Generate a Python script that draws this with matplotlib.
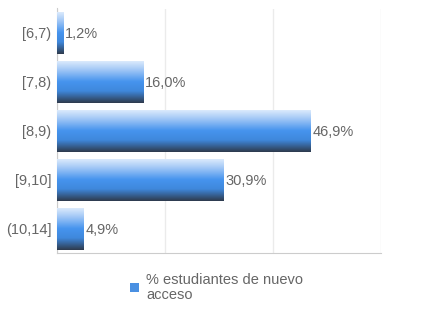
import numpy as np
import matplotlib
matplotlib.use("Agg")
import matplotlib.pyplot as plt
from matplotlib.colors import LinearSegmentedColormap

categories = ["[6,7)", "[7,8)", "[8,9)", "[9,10]", "(10,14]"]
values = [1.2, 16.0, 46.9, 30.9, 4.9]
value_labels = ["1,2%", "16,0%", "46,9%", "30,9%", "4,9%"]
legend_label = "% estudiantes de nuevo\nacceso"

plt.rcParams['font.family'] = ['Liberation Sans', 'DejaVu Sans']

W, H = 432, 324
fig = plt.figure(figsize=(W/100, H/100), dpi=100)
left, right, top, bottom = 57, 381, 8.5, 253
ax = fig.add_axes([left/W, 1-bottom/H, (right-left)/W, (bottom-top)/H])

n = len(categories)
ax.set_xlim(0, 60)
ax.set_ylim(n - 0.5, -0.5)

cmap = LinearSegmentedColormap.from_list(
    "bar", [(0.0, "#e2eefd"), (0.22, "#a3c8f6"), (0.5, "#4694ee"),
            (0.72, "#3f88dc"), (1.0, "#2e3a4c")])
grad = np.linspace(0, 1, 256).reshape(-1, 1)
bh = 0.86
bars = ax.barh(range(n), values, height=bh, color="none", edgecolor="none", zorder=3)
for i, (b, v) in enumerate(zip(bars, values)):
    im = ax.imshow(grad, cmap=cmap, aspect="auto",
                   extent=[0, v, i + bh/2, i - bh/2], zorder=3,
                   interpolation="bilinear")
    im.set_clip_path(b)
    ax.text(v + 0.35, i, value_labels[i], va="center_baseline", ha="left",
            fontsize=10.5, color="#666666", zorder=4)

ax.set_xlim(0, 60)
ax.set_ylim(n - 0.5, -0.5)
ax.set_xticks([0, 20, 40, 60])
ax.set_xticklabels([])
ax.tick_params(axis="x", length=0)
ax.grid(axis="x", color="#ebebeb", linewidth=1, zorder=0)
ax.set_yticks(range(n))
ax.set_yticklabels(categories, fontsize=10.5, color="#666666", va="center_baseline")
ax.tick_params(axis="y", length=0, pad=4)
for s in ["top", "right"]:
    ax.spines[s].set_visible(False)
ax.spines["left"].set_color("#cccccc")
ax.spines["bottom"].set_color("#cccccc")

# legend
lx0, ly0 = 130, 283
sq = plt.Rectangle((lx0/W, 1-(ly0+9)/H), 9/W, 9/H, transform=fig.transFigure,
                   facecolor="#4a90e2", edgecolor="none")
fig.patches.append(sq)
fig.text(146/W, 1-287.5/H, legend_label, fontsize=10.5, color="#666666",
         va="center", ha="left", linespacing=1.05)

fig.savefig("out.png", dpi=100)
